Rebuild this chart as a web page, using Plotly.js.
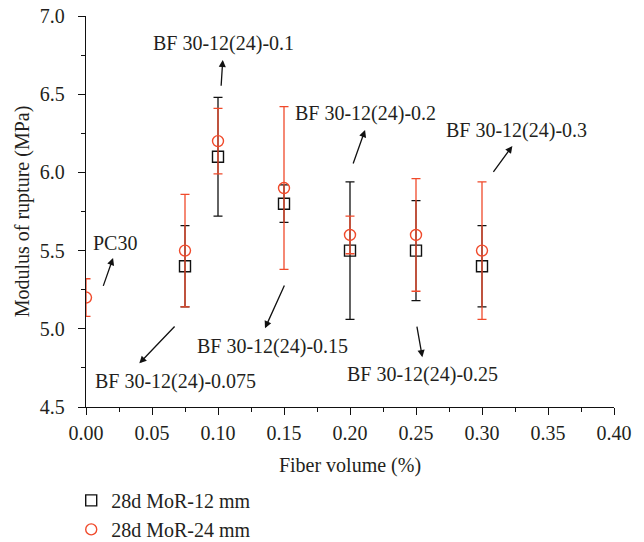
<!DOCTYPE html>
<html>
<head>
<meta charset="utf-8">
<script src="https://cdn.plot.ly/plotly-3.0.1.min.js"></script>
<style>html,body{margin:0;padding:0;background:#fff;}#chart{width:644px;height:542px;}</style>
</head>
<body>
<div id="chart"></div>
<script>
// Data
const fiberVol12 = [0.075, 0.10, 0.15, 0.20, 0.25, 0.30];
const mor12 = [5.4, 6.1, 5.8, 5.5, 5.5, 5.4];
const err12 = [0.26, 0.38, 0.12, 0.44, 0.32, 0.26];

const fiberVol24 = [0.00, 0.075, 0.10, 0.15, 0.20, 0.25, 0.30];
const mor24 = [5.2, 5.5, 6.2, 5.9, 5.6, 5.6, 5.5];
const err24 = [0.12, 0.36, 0.21, 0.52, 0.12, 0.36, 0.44];

const seriesNames = ['28d MoR-12 mm', '28d MoR-24 mm'];
const labelTexts = ['PC30', 'BF 30-12(24)-0.075', 'BF 30-12(24)-0.1', 'BF 30-12(24)-0.15',
  'BF 30-12(24)-0.2', 'BF 30-12(24)-0.25', 'BF 30-12(24)-0.3'];

const FONT = 'Liberation Serif, Times New Roman, serif';
const TXT = '#231f20';
const RED = '#f04a2b';

// label positions (left edge, vertical centre) in data units
const labelPos = [
  [0.0038, 5.550], [0.0051, 4.662], [0.0490, 6.825], [0.0826, 4.885],
  [0.1571, 6.378], [0.1962, 4.705], [0.2714, 6.271]
];
// arrows: [tailX, tailY, headX, headY]
const arrows = [
  [0.0127, 5.265, 0.0205, 5.453],
  [0.0682, 5.024, 0.0404, 4.779],
  [0.1023, 6.544, 0.1036, 6.719],
  [0.1508, 5.286, 0.1356, 5.003],
  [0.2020, 6.047, 0.2114, 6.271],
  [0.2505, 5.024, 0.2548, 4.818],
  [0.3078, 5.994, 0.3230, 6.169]
];

const traces = [
  {
    x: fiberVol12, y: mor12, name: seriesNames[0], type: 'scatter', mode: 'markers',
    marker: {symbol: 'square-open', size: 11, color: '#111', line: {width: 1.4}},
    error_y: {type: 'data', array: err12, visible: true, color: '#111', thickness: 1.3, width: 4.5},
    cliponaxis: true
  },
  {
    x: fiberVol24, y: mor24, name: seriesNames[1], type: 'scatter', mode: 'markers',
    marker: {symbol: 'circle-open', size: 11, color: RED, line: {width: 1.4}},
    error_y: {type: 'data', array: err24, visible: true, color: RED, thickness: 1.3, width: 4.5},
    cliponaxis: true
  }
];

const annotations = [];
labelTexts.forEach((t, i) => {
  annotations.push({
    x: labelPos[i][0], y: labelPos[i][1], xref: 'x', yref: 'y', text: t,
    showarrow: false, xanchor: 'left', yanchor: 'middle',
    font: {family: FONT, size: 20, color: TXT}
  });
});
arrows.forEach(a => {
  annotations.push({
    x: a[2], y: a[3], ax: a[0], ay: a[1], xref: 'x', yref: 'y', axref: 'x', ayref: 'y',
    text: '', showarrow: true, arrowhead: 2, arrowsize: 1.1, arrowwidth: 1.3, arrowcolor: '#111'
  });
});

const axisCommon = {
  showgrid: false, zeroline: false, showline: true, linecolor: '#111', linewidth: 1.3,
  tickcolor: '#111', tickwidth: 1.2,
  tickfont: {family: FONT, size: 20, color: TXT}
};

const layout = {
  width: 644, height: 542,
  margin: {l: 86, r: 30, t: 16, b: 135, autoexpand: false},
  paper_bgcolor: '#fff', plot_bgcolor: '#fff',
  showlegend: true,
  legend: {
    x: -0.028, y: -0.189, xanchor: 'left', yanchor: 'top',
    font: {family: FONT, size: 20, color: TXT},
    bgcolor: 'rgba(0,0,0,0)', tracegroupgap: 0
  },
  xaxis: Object.assign({}, axisCommon, {
    range: [0, 0.4], dtick: 0.05, tick0: 0, tickformat: '.2f',
    ticks: 'outside', ticklen: 7, ticklabelstandoff: 1,
    minor: {dtick: 0.025, tick0: 0, ticks: 'outside', ticklen: 4, tickcolor: '#111', tickwidth: 1.2},
    title: {text: 'Fiber volume (%)', font: {family: FONT, size: 20, color: TXT}, standoff: 14}
  }),
  yaxis: Object.assign({}, axisCommon, {
    range: [4.5, 7.0], dtick: 0.5, tick0: 4.5, tickformat: '.1f',
    ticks: 'outside', ticklen: 7, ticklabelstandoff: 9,
    minor: {dtick: 0.25, tick0: 4.5, ticks: 'outside', ticklen: 4, tickcolor: '#111', tickwidth: 1.2},
    title: {text: 'Modulus of rupture (MPa)', font: {family: FONT, size: 20, color: TXT}, standoff: 4}
  }),
  xaxis2: {
    overlaying: 'x', side: 'top', anchor: 'y2', range: [0, 0.4], dtick: 0.025, tick0: 0,
    ticks: 'inside', ticklen: 5, tickcolor: '#111', tickwidth: 1.2,
    showticklabels: false, showline: true, linecolor: '#111', linewidth: 1.3,
    showgrid: false, zeroline: false
  },
  yaxis2: {
    overlaying: 'y', side: 'right', anchor: 'x2', range: [4.5, 7.0], dtick: 0.25, tick0: 4.5,
    ticks: 'inside', ticklen: 5, tickcolor: '#111', tickwidth: 1.2,
    showticklabels: false, showline: true, linecolor: '#111', linewidth: 1.3,
    showgrid: false, zeroline: false
  },
  annotations: annotations
};

Plotly.newPlot('chart', traces, layout, {displayModeBar: false});
</script>
</body>
</html>
